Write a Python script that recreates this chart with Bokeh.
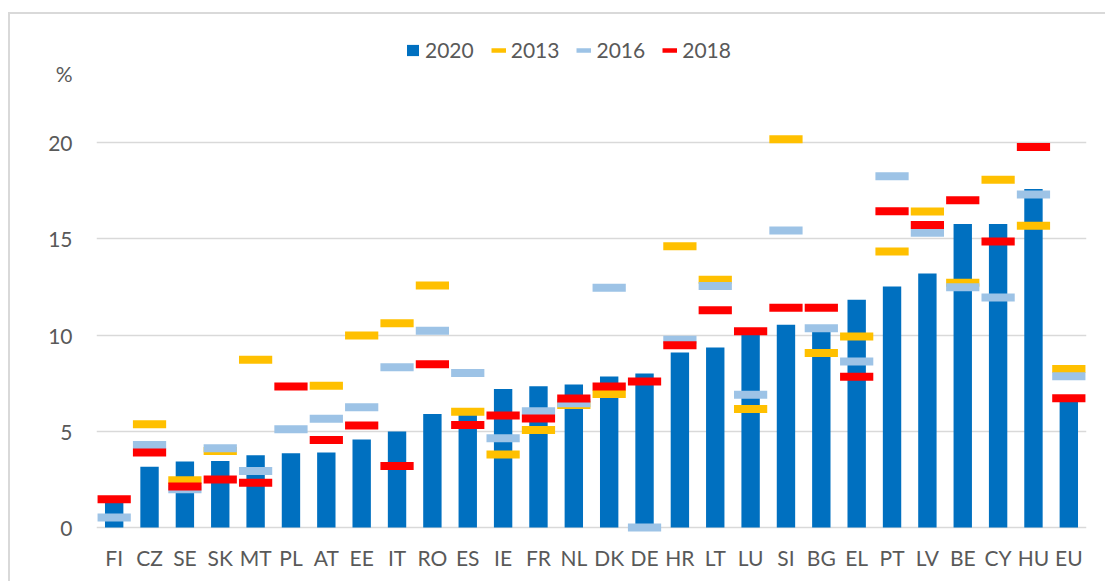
import numpy as np
from bokeh.plotting import figure
from bokeh.models import ColumnDataSource, FactorRange, Range1d, Legend, LegendItem, FixedTicker
from bokeh.embed import file_html
from bokeh.resources import INLINE

nan = np.nan
countries = ["FI", "CZ", "SE", "SK", "MT", "PL", "AT", "EE", "IT", "RO", "ES", "IE", "FR", "NL",
             "DK", "DE", "HR", "LT", "LU", "SI", "BG", "EL", "PT", "LV", "BE", "CY", "HU", "EU"]
v2020 = [1.3, 3.15, 3.43, 3.45, 3.76, 3.86, 3.9, 4.57, 4.99, 5.89, 6.1, 7.2, 7.34, 7.43,
         7.84, 8.0, 9.09, 9.35, 10.1, 10.53, 10.4, 11.83, 12.52, 13.19, 15.76, 15.76, 17.58, 6.58]
v2013 = [nan, 5.37, 2.46, 3.98, 8.71, nan, 7.36, 9.97, 10.61, 12.57, 6.01, 3.79, 5.07, 6.37,
         6.93, nan, 14.61, 12.87, 6.15, 20.17, 9.06, 9.92, 14.34, 16.42, 12.71, 18.06, 15.67, 8.23]
v2016 = [0.52, 4.29, 1.99, 4.12, 2.93, 5.11, 5.65, 6.25, 8.33, 10.22, 8.03, 4.64, 6.04, 6.46,
         12.45, 0.0, 9.75, 12.55, 6.89, 15.43, 10.35, 8.62, 18.25, 15.31, 12.48, 11.95, 17.3, 7.86]
v2018 = [1.47, 3.9, 2.13, 2.49, 2.32, 7.32, 4.55, 5.3, 3.2, 8.48, 5.32, 5.82, 5.66, 6.7,
         7.32, 7.58, 9.47, 11.29, 10.2, 11.41, 11.41, 7.83, 16.43, 15.72, 17.0, 14.86, 19.77, 6.72]
y_ticks = [0, 5, 10, 15, 20]
unit_label = "%"
UNIT_Y = 23.6  # vertical position of the unit label on the value axis

FONT = "Lato"
TXT = "#595959"
GRID = "#d9d9d9"
C2020, C2013, C2016, C2018 = "#0070C0", "#FFC000", "#9DC3E6", "#FF0000"

src = ColumnDataSource(dict(c=countries, v2020=np.array(v2020), v2013=np.array(v2013),
                            v2016=np.array(v2016), v2018=np.array(v2018)))

p = figure(x_range=FactorRange(*countries), y_range=Range1d(-0.623, 25.818),
           frame_width=990, frame_height=509,
           min_border_left=86, min_border_right=19, min_border_top=16, min_border_bottom=42,
           output_backend="svg", toolbar_location=None)
p.margin = (12, 0, 0, 8)
p.styles = {"border-left": f"2px solid {GRID}", "border-top": f"2px solid {GRID}"}
p.outline_line_color = None
p.background_fill_color = "white"
p.border_fill_color = "white"

bars = p.vbar(x="c", top="v2020", bottom=0, width=0.52, source=src, fill_color=C2020, line_color=None)
p.rect(x="c", y="v2013", width=0.94, height=8, height_units="screen", source=src,
       fill_color=C2013, line_color=None)
p.rect(x="c", y="v2016", width=0.94, height=8, height_units="screen", source=src,
       fill_color=C2016, line_color=None)
p.rect(x="c", y="v2018", width=0.94, height=8, height_units="screen", source=src,
       fill_color=C2018, line_color=None)

# legend-only line renderers (kept below the visible range)
l13 = p.line(x=["FI", "EU"], y=[-100, -100], line_color=C2013, line_width=4.5)
l16 = p.line(x=["FI", "EU"], y=[-100, -100], line_color=C2016, line_width=4.5)
l18 = p.line(x=["FI", "EU"], y=[-100, -100], line_color=C2018, line_width=4.5)

legend = Legend(items=[LegendItem(label="2020", renderers=[bars]),
                       LegendItem(label="2013", renderers=[l13]),
                       LegendItem(label="2016", renderers=[l16]),
                       LegendItem(label="2018", renderers=[l18])],
                orientation="horizontal", location=(309, 477),
                glyph_width=15, glyph_height=14, label_height=20, label_standoff=5, spacing=17,
                padding=0, margin=0, border_line_color=None, background_fill_alpha=0,
                label_text_font=FONT, label_text_font_size="21px", label_text_color=TXT)
p.add_layout(legend)

p.ygrid.ticker = FixedTicker(ticks=y_ticks)
p.yaxis.ticker = FixedTicker(ticks=y_ticks + [UNIT_Y])
p.yaxis.major_label_overrides = {UNIT_Y: unit_label}
p.ygrid.grid_line_color = GRID
p.ygrid.grid_line_width = 1.5
p.xgrid.grid_line_color = None

for ax in (p.xaxis, p.yaxis):
    ax.axis_line_color = None
    ax.major_tick_line_color = None
    ax.minor_tick_line_color = None
    ax.major_tick_out = 0
    ax.major_tick_in = 0
    ax.major_label_text_font = FONT
    ax.major_label_text_font_size = "21px"
    ax.major_label_text_color = TXT
p.yaxis.major_label_standoff = 24
p.xaxis.major_label_standoff = 5

open("out.html", "w").write(file_html(p, INLINE))
